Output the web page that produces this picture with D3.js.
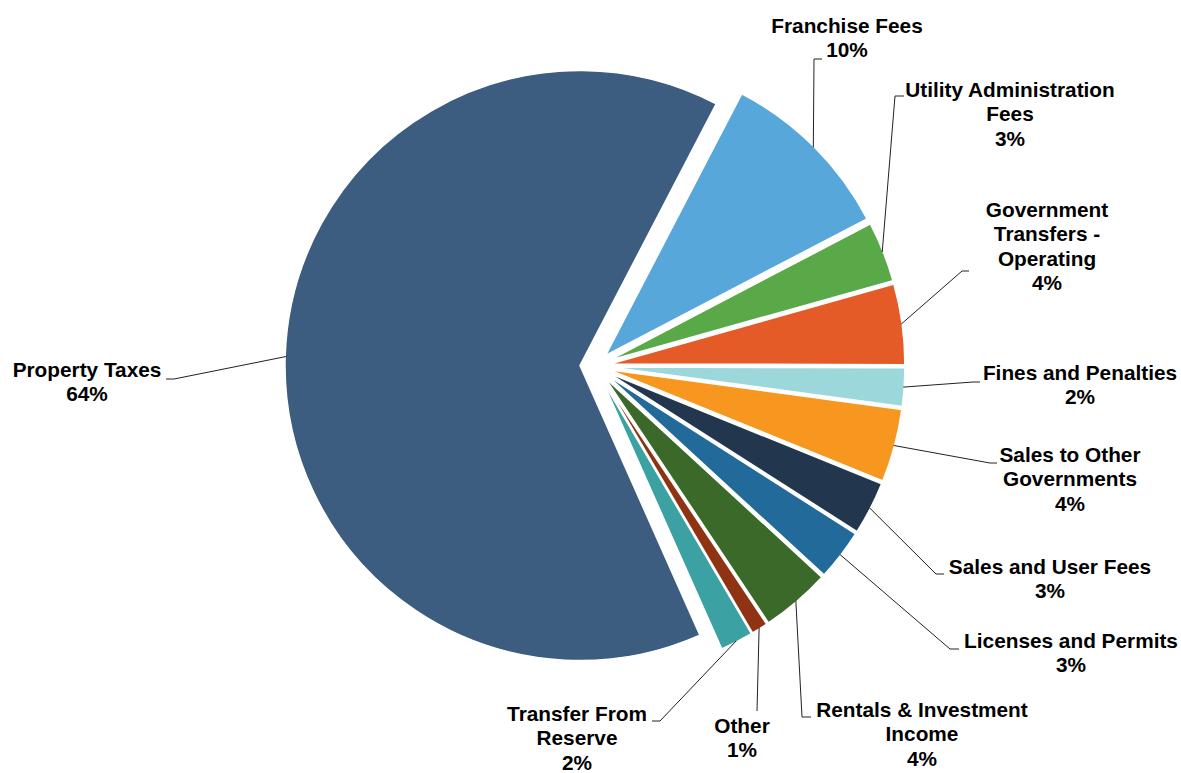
<!DOCTYPE html>
<html>
<head>
<meta charset="utf-8">
<script src="https://cdn.jsdelivr.net/npm/d3@7"></script>
<style>
  html, body { margin: 0; padding: 0; background: #fff; }
  svg text { font-family: "Liberation Sans", Arial, sans-serif; font-weight: bold; font-size: 20.8px; fill: #000; }
</style>
</head>
<body>
<svg id="chart" width="1181" height="773"></svg>
<script>
// revenue share by source, in percent, clockwise from Franchise Fees
var categories = ["Franchise Fees", "Utility Administration Fees", "Government Transfers - Operating",
  "Fines and Penalties", "Sales to Other Governments", "Sales and User Fees", "Licenses and Permits",
  "Rentals & Investment Income", "Other", "Transfer From Reserve", "Property Taxes"];
var values = [9.7, 3.3, 4.4, 2.1, 4.0, 2.9, 2.8, 3.8, 0.9, 1.8, 64.3];
var colors = ["#57a7db", "#5aa948", "#e55b27", "#9bd7db", "#f7971f", "#22374e", "#226a9a",
  "#3a692a", "#8f3312", "#3ba1a3", "#3d5d80"];

// label layout: text lines, text centre x, first baseline, elbow of leader, end of short tail
var labelLayout = [
  {lines: ["Franchise Fees"], x: 847, y: 33, elbow: [814, 59], tail: [822, 59]},
  {lines: ["Utility Administration", "Fees"], x: 1010, y: 97, elbow: [895, 96], tail: [904, 96]},
  {lines: ["Government", "Transfers -", "Operating"], x: 1047, y: 217, elbow: [962, 271], tail: [969, 271]},
  {lines: ["Fines and Penalties"], x: 1080, y: 380, elbow: [973, 382], tail: [980, 382]},
  {lines: ["Sales to Other", "Governments"], x: 1070, y: 462, elbow: [990, 463], tail: [997, 463]},
  {lines: ["Sales and User Fees"], x: 1050, y: 574, elbow: [936, 574], tail: [944, 574]},
  {lines: ["Licenses and Permits"], x: 1071, y: 648, elbow: [950, 649], tail: [959, 649]},
  {lines: ["Rentals & Investment", "Income"], x: 922, y: 717, elbow: [802, 717], tail: [811, 717]},
  {lines: ["Other"], x: 742, y: 733, elbow: [757, 711], tail: null},
  {lines: ["Transfer From", "Reserve"], x: 577, y: 721, elbow: [660, 721], tail: [652, 721]},
  {lines: ["Property Taxes"], x: 87, y: 377, elbow: [174, 379], tail: [166, 379]}
];

var cx = 595, cy = 366, radius = 295, explode = 15, lineGap = 24.3;
var startDeg = 27.5;

var svg = d3.select("#chart");
var total = d3.sum(values);
var pct = d3.format(".0%");

var pie = d3.pie().sort(null).value(function(d){ return d; })
  .startAngle(startDeg * Math.PI / 180)
  .endAngle(startDeg * Math.PI / 180 + 2 * Math.PI);
var arc = d3.arc().innerRadius(0).outerRadius(radius);
var arcs = pie(values);

function dir(a){ return [Math.sin(a), -Math.cos(a)]; }
function mid(d){ return (d.startAngle + d.endAngle) / 2; }

var g = svg.append("g").attr("transform", "translate(" + cx + "," + cy + ")");

g.selectAll("path.slice")
  .data(arcs)
  .enter().append("path")
  .attr("class", "slice")
  .attr("d", arc)
  .attr("fill", function(d, i){ return colors[i]; })
  .attr("stroke", "#fff")
  .attr("stroke-width", 1.5)
  .attr("transform", function(d){
    var u = dir(mid(d));
    return "translate(" + (u[0] * explode) + "," + (u[1] * explode) + ")";
  });

// leader lines
svg.selectAll("path.leader")
  .data(arcs)
  .enter().append("path")
  .attr("class", "leader")
  .attr("fill", "none")
  .attr("stroke", "#222")
  .attr("stroke-width", 1)
  .attr("d", function(d, i){
    var u = dir(mid(d));
    var L = labelLayout[i];
    var p = [cx + u[0] * (radius + explode - 1), cy + u[1] * (radius + explode - 1)];
    var s = "M" + p[0] + "," + p[1] + "L" + L.elbow[0] + "," + L.elbow[1];
    if(L.tail) s += "L" + L.tail[0] + "," + L.tail[1];
    return s;
  });

// labels
var labels = svg.selectAll("text.label")
  .data(arcs)
  .enter().append("text")
  .attr("class", "label")
  .attr("text-anchor", "middle");

labels.each(function(d, i){
  var L = labelLayout[i];
  var t = d3.select(this);
  var lines = L.lines.concat([pct(d.data / total)]);
  lines.forEach(function(line, k){
    t.append("tspan").attr("x", L.x).attr("y", L.y + k * lineGap).text(line);
  });
});
</script>
</body>
</html>
